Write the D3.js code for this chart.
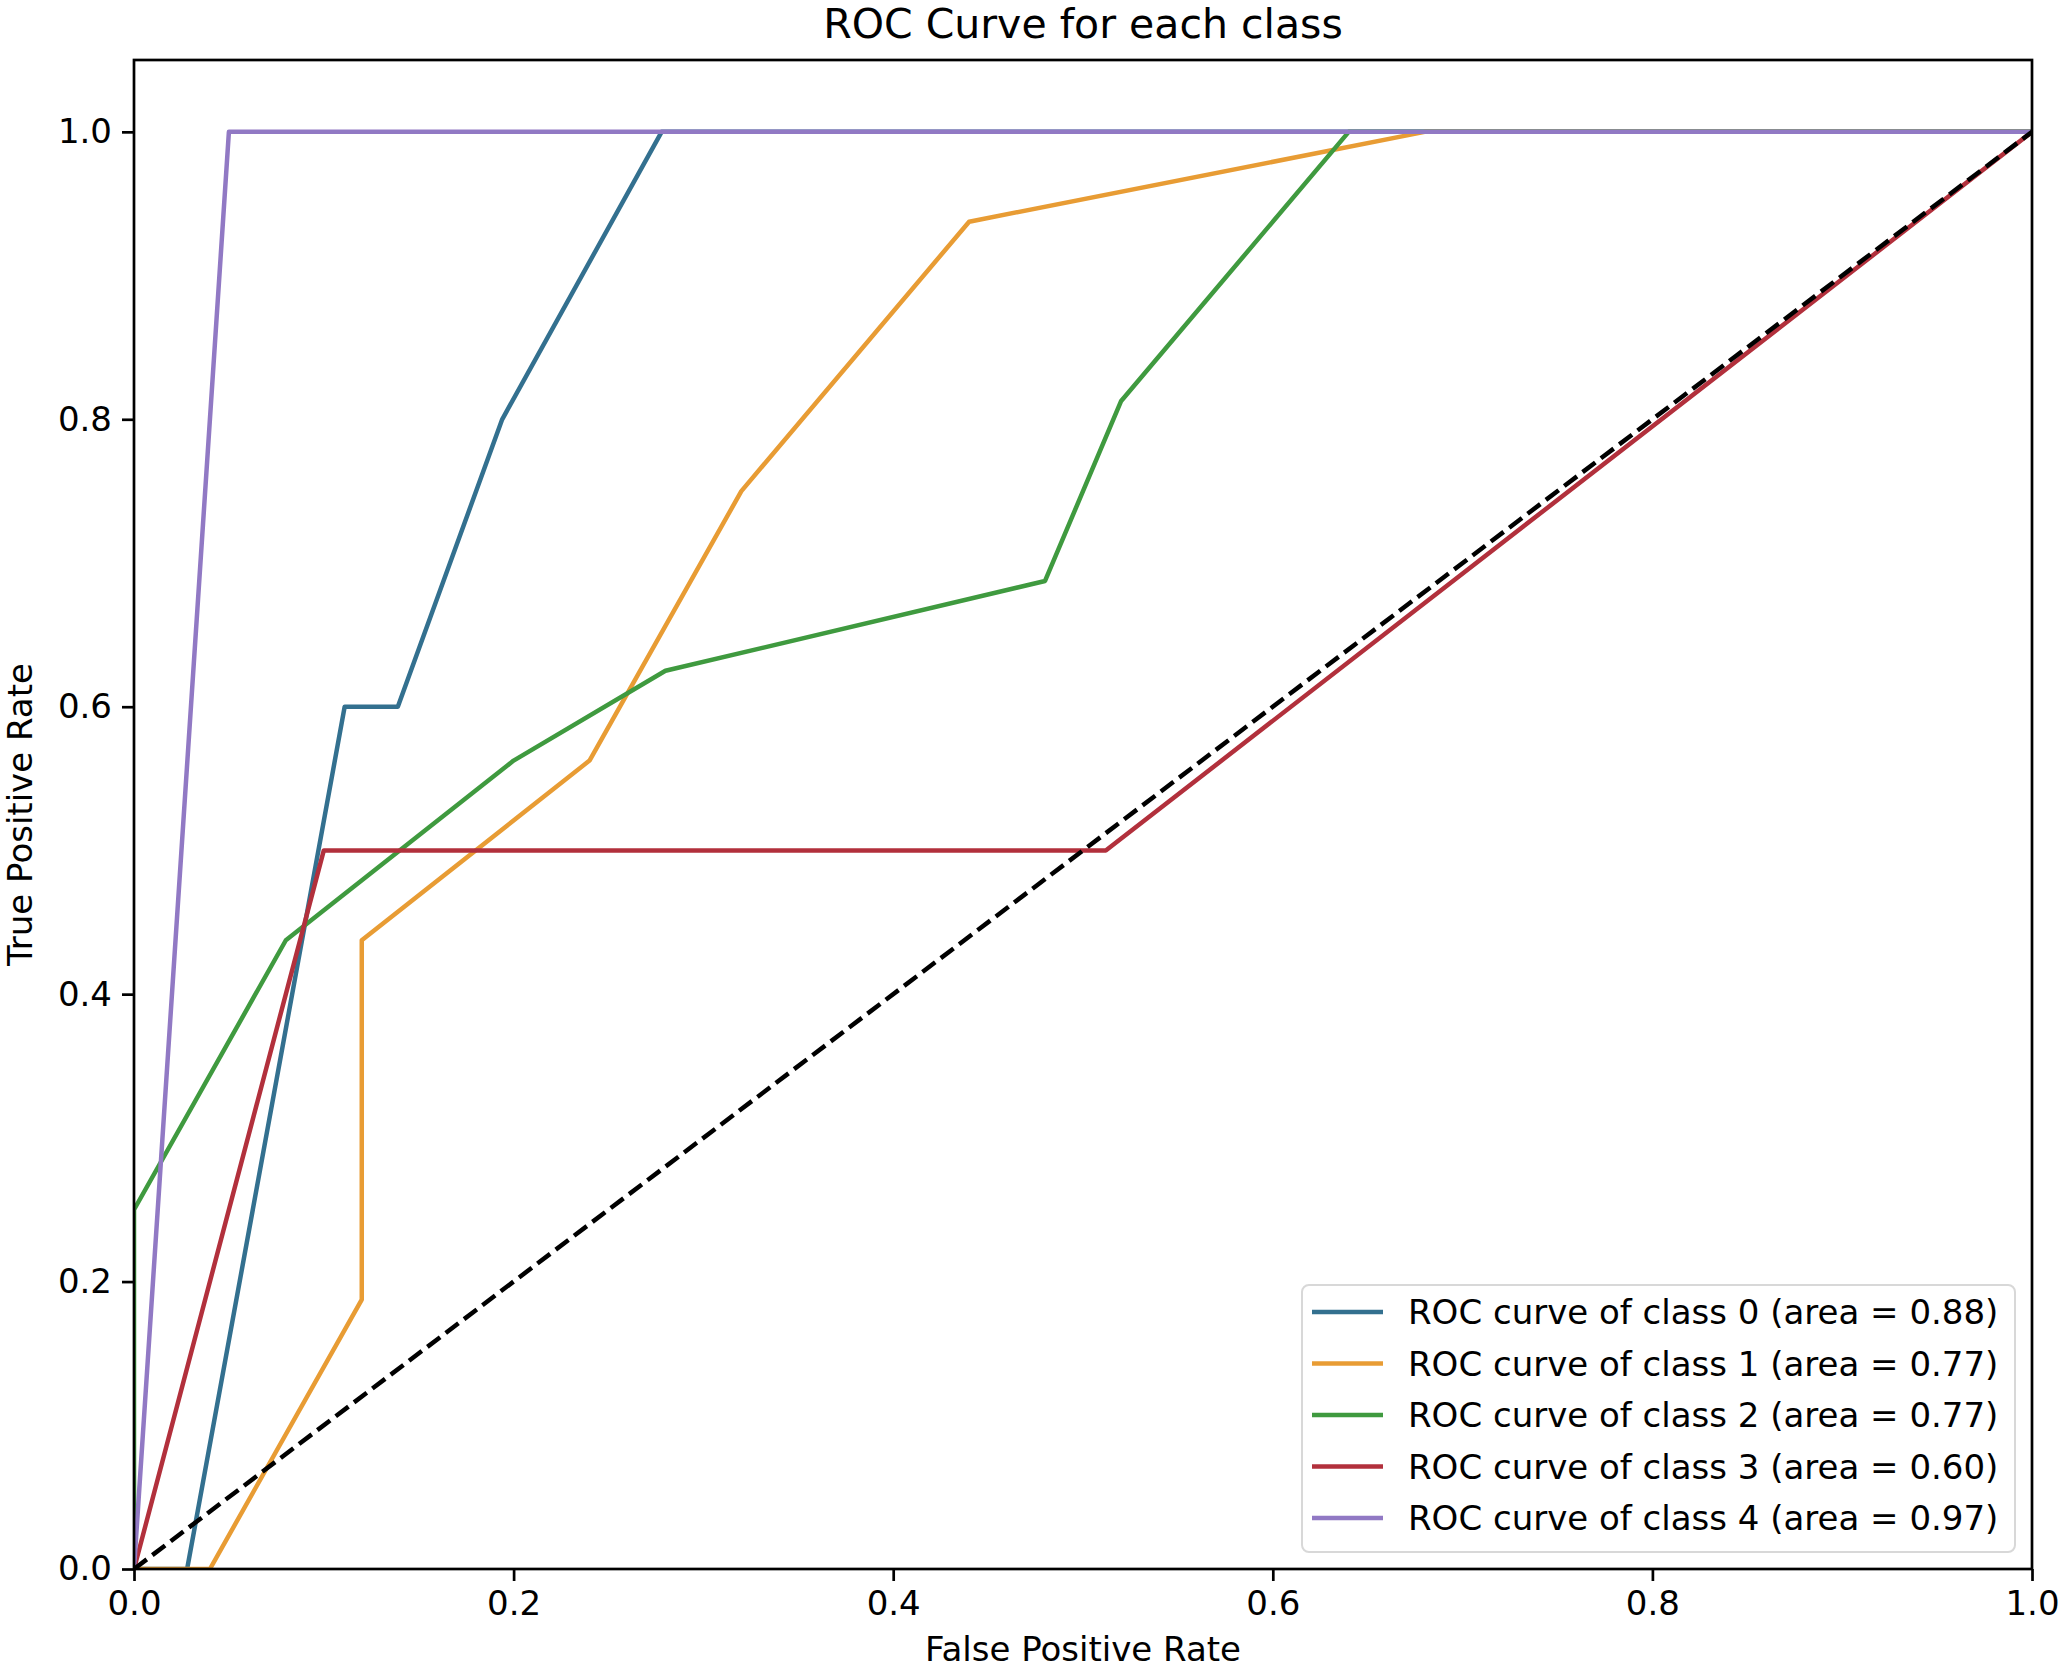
<!DOCTYPE html>
<html>
<head>
<meta charset="utf-8">
<script src="https://cdn.jsdelivr.net/npm/d3@7"></script>
<style>
  html, body { margin: 0; padding: 0; background: #fff; }
  svg { display: block; }
  text { font-family: "DejaVu Sans", sans-serif; fill: #000; }
</style>
</head>
<body>
<svg id="chart" width="2062" height="1670"></svg>
<script>
// ---- data ----
const classNames = ["class 0", "class 1", "class 2", "class 3", "class 4"];
const areas = ["0.88", "0.77", "0.77", "0.60", "0.97"];
const colors = ["#33708f", "#e89c34", "#3f9a3f", "#b2303c", "#9179c4"];
const fpr0 = [0, 0.028, 0.111, 0.139, 0.194, 0.278, 1];
const tpr0 = [0, 0, 0.6, 0.6, 0.8, 1.0, 1.0];
const fpr1 = [0, 0.04, 0.12, 0.12, 0.24, 0.32, 0.44, 0.68, 1];
const tpr1 = [0, 0, 0.1875, 0.4375, 0.5625, 0.75, 0.9375, 1.0, 1.0];
const fpr2 = [0, 0, 0.08, 0.2, 0.28, 0.48, 0.52, 0.64, 1];
const tpr2 = [0, 0.25, 0.4375, 0.5625, 0.625, 0.6875, 0.8125, 1.0, 1.0];
const fpr3 = [0, 0.1, 0.512, 1];
const tpr3 = [0, 0.5, 0.5, 1.0];
const fpr4 = [0, 0.05, 1];
const tpr4 = [0, 1.0, 1.0];
const diagX = [0, 1];
const diagY = [0, 1];
const xTicks = [0, 0.2, 0.4, 0.6, 0.8, 1.0];
const yTicks = [0, 0.2, 0.4, 0.6, 0.8, 1.0];
const title = "ROC Curve for each class";
const xLabel = "False Positive Rate";
const yLabel = "True Positive Rate";

const fprs = [fpr0, fpr1, fpr2, fpr3, fpr4];
const tprs = [tpr0, tpr1, tpr2, tpr3, tpr4];

// ---- layout ----
const L = 134, R = 2032, T = 60, B = 1569;
const FS = 34;
const svg = d3.select("#chart");
const x = d3.scaleLinear().domain([0, 1]).range([L, R]);
const y = d3.scaleLinear().domain([0, 1.05]).range([B, T]);

const line = d3.line().x(d => x(d[0])).y(d => y(d[1]));

svg.append("defs").append("clipPath").attr("id", "clip")
  .append("rect").attr("x", L).attr("y", T).attr("width", R - L).attr("height", B - T);

const plot = svg.append("g").attr("clip-path", "url(#clip)");

fprs.forEach((f, i) => {
  const pts = f.map((v, j) => [v, tprs[i][j]]);
  plot.append("path")
    .attr("d", line(pts))
    .attr("fill", "none")
    .attr("stroke", colors[i])
    .attr("stroke-width", 4.5)
    .attr("stroke-linejoin", "round")
    .attr("stroke-linecap", "butt");
});

plot.append("path")
  .attr("d", line(diagX.map((v, j) => [v, diagY[j]])))
  .attr("fill", "none")
  .attr("stroke", "#000")
  .attr("stroke-width", 4.5)
  .attr("stroke-dasharray", "16,7");

// axes
const tickLen = 12, tickPad = 10;
const xAxis = d3.axisBottom(x).tickValues(xTicks).tickFormat(d3.format(".1f"))
  .tickSizeInner(tickLen).tickSizeOuter(0).tickPadding(tickPad);
const yAxis = d3.axisLeft(y).tickValues(yTicks).tickFormat(d3.format(".1f"))
  .tickSizeInner(tickLen).tickSizeOuter(0).tickPadding(tickPad);

const gx = svg.append("g").attr("transform", `translate(0,${B})`).call(xAxis);
const gy = svg.append("g").attr("transform", `translate(${L},0)`).call(yAxis);
[gx, gy].forEach(g => {
  g.select(".domain").remove();
  g.selectAll(".tick line").attr("stroke", "#000").attr("stroke-width", 2.7);
  g.selectAll(".tick text").style("font-family", "DejaVu Sans").style("font-size", FS + "px").attr("fill", "#000");
});

// frame
svg.append("rect")
  .attr("x", L).attr("y", T).attr("width", R - L).attr("height", B - T)
  .attr("fill", "none").attr("stroke", "#000").attr("stroke-width", 2.7);

// title & labels
svg.append("text").attr("x", (L + R) / 2).attr("y", 38)
  .attr("text-anchor", "middle").style("font-size", "41px").text(title);
svg.append("text").attr("x", (L + R) / 2).attr("y", 1661)
  .attr("text-anchor", "middle").style("font-size", FS + "px").text(xLabel);
svg.append("text").attr("transform", `translate(32,${(T + B) / 2}) rotate(-90)`)
  .attr("text-anchor", "middle").style("font-size", FS + "px").text(yLabel);

// legend
const lgX = 1302, lgY = 1285, lgW = 713, lgH = 267;
const lg = svg.append("g");
lg.append("rect").attr("x", lgX).attr("y", lgY).attr("width", lgW).attr("height", lgH)
  .attr("rx", 7).attr("fill", "#fff").attr("fill-opacity", 0.8)
  .attr("stroke", "#d8d8d8").attr("stroke-width", 2);
const rowY = d3.scaleLinear().domain([0, classNames.length - 1]).range([lgY + 27, lgY + 27 + 4 * 51.5]);
classNames.forEach((c, i) => {
  const yy = rowY(i);
  lg.append("line").attr("x1", lgX + 10).attr("x2", lgX + 81).attr("y1", yy).attr("y2", yy)
    .attr("stroke", colors[i]).attr("stroke-width", 4.5);
  lg.append("text").attr("x", lgX + 106).attr("y", yy + 12)
    .style("font-size", FS + "px")
    .text(`ROC curve of ${c} (area = ${areas[i]})`);
});
</script>
</body>
</html>
